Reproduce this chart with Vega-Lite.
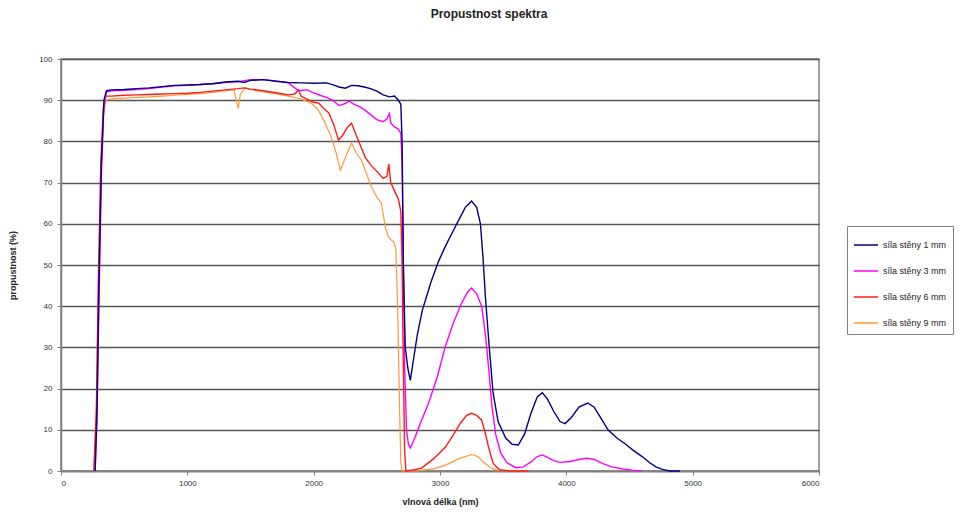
{
  "$schema": "https://vega.github.io/schema/vega-lite/v6.json",
  "autosize": {"type": "none"},
  "width": 758,
  "height": 412,
  "padding": {"left": 61, "top": 59, "right": 159, "bottom": 46},
  "background": "white",
  "title": {"text": "Propustnost spektra", "anchor": "middle", "dx": 49, "offset": 34, "fontSize": 12, "font": "Liberation Sans", "fontWeight": "bold", "color": "#222"},
  "datasets": {
    "d1": [
      {"wl":270,"t":0},{"wl":285,"t":15},{"wl":300,"t":45},{"wl":320,"t":75},{"wl":340,"t":90},{"wl":360,"t":92.3},{"wl":400,"t":92.5},{"wl":500,"t":92.6},{"wl":600,"t":92.8},{"wl":700,"t":93},{"wl":800,"t":93.3},{"wl":900,"t":93.6},{"wl":1000,"t":93.7},{"wl":1100,"t":93.8},{"wl":1200,"t":94},{"wl":1300,"t":94.4},{"wl":1400,"t":94.6},{"wl":1450,"t":94.3},{"wl":1500,"t":94.8},{"wl":1600,"t":95},{"wl":1700,"t":94.6},{"wl":1800,"t":94.3},{"wl":1900,"t":94.2},{"wl":2000,"t":94.1},{"wl":2100,"t":94.2},{"wl":2150,"t":93.8},{"wl":2200,"t":93.2},{"wl":2250,"t":92.9},{"wl":2300,"t":93.6},{"wl":2350,"t":93.5},{"wl":2400,"t":93.2},{"wl":2450,"t":92.8},{"wl":2500,"t":92.2},{"wl":2550,"t":91.3},{"wl":2600,"t":90.8},{"wl":2640,"t":91},{"wl":2670,"t":90},{"wl":2690,"t":89},{"wl":2700,"t":80},{"wl":2710,"t":50},{"wl":2725,"t":30},{"wl":2745,"t":25},{"wl":2765,"t":22},{"wl":2790,"t":27},{"wl":2820,"t":33},{"wl":2860,"t":39},{"wl":2890,"t":42},{"wl":2930,"t":46},{"wl":2990,"t":51},{"wl":3050,"t":55},{"wl":3100,"t":58},{"wl":3150,"t":61},{"wl":3200,"t":64},{"wl":3250,"t":65.5},{"wl":3290,"t":64},{"wl":3320,"t":60},{"wl":3340,"t":52},{"wl":3360,"t":42},{"wl":3390,"t":30},{"wl":3420,"t":19},{"wl":3460,"t":12},{"wl":3520,"t":8},{"wl":3570,"t":6.5},{"wl":3620,"t":6.3},{"wl":3670,"t":9},{"wl":3720,"t":14},{"wl":3770,"t":18},{"wl":3810,"t":19},{"wl":3850,"t":17.5},{"wl":3900,"t":14.5},{"wl":3950,"t":12},{"wl":3990,"t":11.5},{"wl":4040,"t":13},{"wl":4100,"t":15.5},{"wl":4170,"t":16.5},{"wl":4220,"t":15.5},{"wl":4270,"t":13},{"wl":4330,"t":10},{"wl":4400,"t":8},{"wl":4470,"t":6.5},{"wl":4530,"t":5},{"wl":4600,"t":3.5},{"wl":4660,"t":2},{"wl":4710,"t":1},{"wl":4760,"t":0.4},{"wl":4820,"t":0},{"wl":4900,"t":0}
    ],
    "d3": [
      {"wl":270,"t":0},{"wl":285,"t":12},{"wl":300,"t":40},{"wl":320,"t":72},{"wl":340,"t":89},{"wl":360,"t":92},{"wl":400,"t":92.3},{"wl":500,"t":92.4},{"wl":600,"t":92.6},{"wl":700,"t":92.8},{"wl":800,"t":93.2},{"wl":900,"t":93.5},{"wl":1000,"t":93.6},{"wl":1100,"t":93.8},{"wl":1200,"t":94},{"wl":1300,"t":94.3},{"wl":1400,"t":94.5},{"wl":1500,"t":95},{"wl":1600,"t":95},{"wl":1700,"t":94.7},{"wl":1800,"t":94.2},{"wl":1850,"t":93},{"wl":1880,"t":92.3},{"wl":1950,"t":92.5},{"wl":2000,"t":91.8},{"wl":2050,"t":91.2},{"wl":2100,"t":90.7},{"wl":2150,"t":90},{"wl":2200,"t":88.7},{"wl":2250,"t":89.2},{"wl":2280,"t":89.8},{"wl":2320,"t":89},{"wl":2360,"t":88.5},{"wl":2400,"t":87.7},{"wl":2450,"t":86.5},{"wl":2500,"t":85.3},{"wl":2550,"t":84.8},{"wl":2580,"t":85.5},{"wl":2600,"t":86.8},{"wl":2610,"t":84.5},{"wl":2640,"t":83.5},{"wl":2670,"t":83},{"wl":2690,"t":82},{"wl":2700,"t":75},{"wl":2710,"t":50},{"wl":2720,"t":25},{"wl":2735,"t":10},{"wl":2750,"t":6.5},{"wl":2766,"t":5.6},{"wl":2800,"t":8},{"wl":2850,"t":12},{"wl":2910,"t":16.5},{"wl":2980,"t":23},{"wl":3040,"t":30},{"wl":3100,"t":35.5},{"wl":3170,"t":40.7},{"wl":3220,"t":43.5},{"wl":3250,"t":44.4},{"wl":3290,"t":43},{"wl":3330,"t":40},{"wl":3360,"t":33},{"wl":3385,"t":25},{"wl":3410,"t":16},{"wl":3440,"t":9},{"wl":3480,"t":4.4},{"wl":3530,"t":2},{"wl":3600,"t":0.8},{"wl":3660,"t":1},{"wl":3720,"t":2.2},{"wl":3770,"t":3.5},{"wl":3810,"t":3.9},{"wl":3850,"t":3.3},{"wl":3900,"t":2.5},{"wl":3950,"t":2.1},{"wl":4030,"t":2.3},{"wl":4100,"t":2.8},{"wl":4160,"t":3.1},{"wl":4220,"t":2.8},{"wl":4290,"t":1.8},{"wl":4360,"t":1},{"wl":4450,"t":0.5},{"wl":4520,"t":0.2},{"wl":4600,"t":0}
    ],
    "d6": [
      {"wl":260,"t":0},{"wl":280,"t":15},{"wl":295,"t":45},{"wl":315,"t":75},{"wl":335,"t":88},{"wl":355,"t":91},{"wl":400,"t":91},{"wl":500,"t":91.2},{"wl":600,"t":91.3},{"wl":700,"t":91.4},{"wl":800,"t":91.5},{"wl":900,"t":91.6},{"wl":1000,"t":91.7},{"wl":1100,"t":91.9},{"wl":1200,"t":92.2},{"wl":1300,"t":92.5},{"wl":1400,"t":92.8},{"wl":1450,"t":93},{"wl":1500,"t":92.7},{"wl":1600,"t":92.3},{"wl":1700,"t":91.8},{"wl":1800,"t":91.3},{"wl":1850,"t":91.5},{"wl":1880,"t":92.5},{"wl":1900,"t":91},{"wl":1950,"t":90.2},{"wl":2000,"t":89.5},{"wl":2040,"t":89.3},{"wl":2080,"t":88},{"wl":2120,"t":86.9},{"wl":2160,"t":84},{"wl":2196,"t":80.3},{"wl":2230,"t":81.5},{"wl":2270,"t":83.5},{"wl":2300,"t":84.4},{"wl":2330,"t":82},{"wl":2370,"t":79},{"wl":2410,"t":76},{"wl":2460,"t":74},{"wl":2513,"t":72.3},{"wl":2550,"t":71},{"wl":2580,"t":71.5},{"wl":2595,"t":74.5},{"wl":2610,"t":70},{"wl":2640,"t":68},{"wl":2670,"t":66},{"wl":2690,"t":63},{"wl":2700,"t":50},{"wl":2710,"t":25},{"wl":2720,"t":5},{"wl":2730,"t":0},{"wl":2800,"t":0.3},{"wl":2853,"t":0.7},{"wl":2900,"t":1.8},{"wl":2950,"t":3},{"wl":3000,"t":4.5},{"wl":3043,"t":5.8},{"wl":3100,"t":8.5},{"wl":3162,"t":11.6},{"wl":3210,"t":13.5},{"wl":3250,"t":14},{"wl":3290,"t":13.5},{"wl":3329,"t":12.4},{"wl":3360,"t":9},{"wl":3384,"t":5.8},{"wl":3420,"t":1.9},{"wl":3470,"t":0.3},{"wl":3550,"t":0},{"wl":3700,"t":0}
    ],
    "d9": [
      {"wl":260,"t":0},{"wl":280,"t":14},{"wl":295,"t":42},{"wl":315,"t":72},{"wl":335,"t":86},{"wl":355,"t":90},{"wl":400,"t":90.3},{"wl":500,"t":90.5},{"wl":600,"t":90.7},{"wl":700,"t":90.8},{"wl":800,"t":91},{"wl":900,"t":91.2},{"wl":1000,"t":91.4},{"wl":1100,"t":91.6},{"wl":1200,"t":91.9},{"wl":1300,"t":92.3},{"wl":1370,"t":92.5},{"wl":1390,"t":89.5},{"wl":1403,"t":88},{"wl":1420,"t":91.5},{"wl":1460,"t":93},{"wl":1500,"t":92.6},{"wl":1600,"t":92},{"wl":1700,"t":91.6},{"wl":1800,"t":91},{"wl":1900,"t":90.3},{"wl":1980,"t":89.3},{"wl":2037,"t":87.6},{"wl":2090,"t":84.5},{"wl":2140,"t":81},{"wl":2180,"t":77},{"wl":2211,"t":73},{"wl":2250,"t":76},{"wl":2300,"t":79.6},{"wl":2340,"t":77},{"wl":2378,"t":75.5},{"wl":2420,"t":72},{"wl":2457,"t":69},{"wl":2500,"t":66.5},{"wl":2536,"t":65},{"wl":2568,"t":59},{"wl":2590,"t":57},{"wl":2616,"t":56},{"wl":2635,"t":55.5},{"wl":2650,"t":54},{"wl":2665,"t":40},{"wl":2680,"t":15},{"wl":2690,"t":2},{"wl":2700,"t":0},{"wl":2800,"t":0},{"wl":2950,"t":0.5},{"wl":3050,"t":1.5},{"wl":3150,"t":3},{"wl":3250,"t":4},{"wl":3300,"t":3.5},{"wl":3350,"t":2},{"wl":3400,"t":0.8},{"wl":3450,"t":0.2},{"wl":3550,"t":0},{"wl":3700,"t":0}
    ]
  },
  "layer": [
    {"data": {"name": "d9"}, "transform": [{"calculate": "'síla stěny 9 mm'", "as": "s"}], "mark": {"type": "line", "strokeWidth": 1.2}, "encoding": {"x": {"field": "wl", "type": "quantitative"}, "y": {"field": "t", "type": "quantitative"}, "color": {"field": "s", "type": "nominal"}}},
    {"data": {"name": "d6"}, "transform": [{"calculate": "'síla stěny 6 mm'", "as": "s"}], "mark": {"type": "line", "strokeWidth": 1.4}, "encoding": {"x": {"field": "wl", "type": "quantitative"}, "y": {"field": "t", "type": "quantitative"}, "color": {"field": "s", "type": "nominal"}}},
    {"data": {"name": "d3"}, "transform": [{"calculate": "'síla stěny 3 mm'", "as": "s"}], "mark": {"type": "line", "strokeWidth": 1.4}, "encoding": {"x": {"field": "wl", "type": "quantitative"}, "y": {"field": "t", "type": "quantitative"}, "color": {"field": "s", "type": "nominal"}}},
    {"data": {"name": "d1"}, "transform": [{"calculate": "'síla stěny 1 mm'", "as": "s"}], "mark": {"type": "line", "strokeWidth": 1.4}, "encoding": {"x": {"field": "wl", "type": "quantitative", "scale": {"domain": [0, 6000], "nice": false}, "axis": {"title": "vlnová délka (nm)", "values": [0,1000,2000,3000,4000,5000,6000], "grid": false, "format": "d"}}, "y": {"field": "t", "type": "quantitative", "scale": {"domain": [0, 100], "nice": false}, "axis": {"title": "propustnost (%)", "values": [0,10,20,30,40,50,60,70,80,90,100], "grid": true, "titleX": -44, "titleY": 206, "titleAlign": "center", "titleAngle": -90}}, "color": {"field": "s", "type": "nominal", "scale": {"domain": ["síla stěny 1 mm", "síla stěny 3 mm", "síla stěny 6 mm", "síla stěny 9 mm"], "range": ["#000080", "#ff00ff", "#ff1a1a", "#ff9933"]}, "legend": {"title": null, "orient": "none", "legendX": 786, "legendY": 167, "symbolType": "stroke", "symbolSize": 576, "symbolStrokeWidth": 1.5, "labelFontSize": 9, "labelFont": "Liberation Sans", "labelColor": "#222", "strokeColor": "#808080", "padding": 6, "rowPadding": 8, "fillColor": "white"}}}}
  ],
  "config": {
    "view": {"stroke": "#808080", "strokeWidth": 1.5},
    "axis": {"labelFont": "Liberation Sans", "labelFontSize": 8, "labelColor": "#333", "titleFont": "Liberation Sans", "titleFontSize": 9, "titleFontWeight": "bold", "titleColor": "#222", "domainColor": "#808080", "domainWidth": 1.5, "tickColor": "#808080", "tickSize": 4, "gridColor": "#555", "gridWidth": 1.5, "gridOpacity": 1},
    "axisX": {"titlePadding": 10, "labelPadding": 4},
    "axisY": {"labelPadding": 5}
  }
}
